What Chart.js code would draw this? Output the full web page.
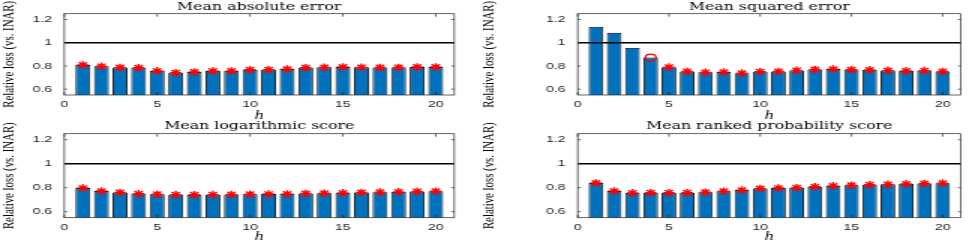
<!DOCTYPE html>
<html>
<head>
<meta charset="utf-8">
<script src="https://cdn.jsdelivr.net/npm/chart.js@4.4.0/dist/chart.umd.min.js"></script>
<style>
html, body { margin: 0; padding: 0; background: #fff; overflow: hidden; }
#fig { position: relative; width: 969px; height: 241px; }
#fig canvas { position: absolute; }
</style>
</head>
<body>
<div id="fig"></div>
<script>
// Forecast horizons and relative losses (model vs. INAR)
const horizons = [1, 2, 3, 4, 5, 6, 7, 8, 9, 10, 11, 12, 13, 14, 15, 16, 17, 18, 19, 20];
const maeLoss = [0.808, 0.797, 0.787, 0.785, 0.758, 0.742, 0.748, 0.757, 0.757, 0.767,
                 0.768, 0.773, 0.785, 0.788, 0.791, 0.788, 0.787, 0.787, 0.791, 0.791];
const mseLoss = [1.136, 1.086, 0.955, 0.872, 0.790, 0.752, 0.745, 0.747, 0.738, 0.751,
                 0.752, 0.762, 0.770, 0.773, 0.768, 0.766, 0.762, 0.758, 0.760, 0.752];
const logsLoss = [0.797, 0.772, 0.760, 0.750, 0.745, 0.742, 0.741, 0.742, 0.743, 0.745,
                  0.747, 0.748, 0.752, 0.754, 0.757, 0.760, 0.763, 0.765, 0.768, 0.771];
const rpsLoss = [0.839, 0.772, 0.757, 0.758, 0.758, 0.758, 0.762, 0.770, 0.780, 0.793,
                 0.797, 0.800, 0.808, 0.815, 0.820, 0.825, 0.828, 0.832, 0.835, 0.838];

// significance markers (horizons)
const maeStars = horizons;
const mseStars = [5, 6, 7, 8, 9, 10, 11, 12, 13, 14, 15, 16, 17, 18, 19, 20];
const mseCircles = [4];
const logsStars = horizons;
const rpsStars = horizons;

const xTicks = [0, 5, 10, 15, 20];
const yTicks = [0.6, 0.8, 1, 1.2];
const refLevel = 1;

// picture is stretched sideways, draw narrow and widen with css
const SX = 1.5;
const fig = document.getElementById('fig');

const panels = [
    { title: 'Mean absolute error', values: maeLoss, stars: maeStars, circles: [],
      left: 0, top: 0, w: 480, h: 120, area: { l: 64.3, r: 454.3, b: 95 }, pad: [0, 1.2] },
    { title: 'Mean squared error', values: mseLoss, stars: mseStars, circles: mseCircles,
      left: 480, top: 0, w: 489, h: 120, area: { l: 97.7, r: 487.3, b: 95 }, pad: [0, 1.2] },
    { title: 'Mean logarithmic score', values: logsLoss, stars: logsStars, circles: [],
      left: 0, top: 120, w: 480, h: 121, area: { l: 64.3, r: 454.3, b: 97.7 }, pad: [1, 1.8] },
    { title: 'Mean ranked probability score', values: rpsLoss, stars: rpsStars, circles: [],
      left: 480, top: 120, w: 489, h: 121, area: { l: 97.7, r: 487.3, b: 97.7 }, pad: [1, 1.8] }
];

const axisColor = '#262626';
const tickFont = { family: 'Liberation Sans', size: 9.5 };

// box round the axes with inward tick marks
const frame = {
    id: 'frame',
    afterDraw(chart) {
        const { ctx, chartArea: a, scales } = chart;
        ctx.save();
        ctx.strokeStyle = axisColor;
        ctx.lineWidth = 0.7;
        ctx.strokeRect(a.left, a.top, a.right - a.left, a.bottom - a.top);
        ctx.beginPath();
        xTicks.forEach(v => {
            const px = scales.x.getPixelForValue(v);
            ctx.moveTo(px, a.bottom); ctx.lineTo(px, a.bottom - 3);
            ctx.moveTo(px, a.top); ctx.lineTo(px, a.top + 3);
        });
        yTicks.forEach(v => {
            const py = scales.y.getPixelForValue(v);
            ctx.moveTo(a.left, py); ctx.lineTo(a.left + 2, py);
            ctx.moveTo(a.right, py); ctx.lineTo(a.right - 2, py);
        });
        ctx.stroke();
        ctx.restore();
    }
};

function makeChart(p) {
    const cv = document.createElement('canvas');
    const iw = Math.round(p.w / SX);
    cv.width = iw;
    cv.height = p.h;
    cv.style.left = p.left + 'px';
    cv.style.top = p.top + 'px';
    cv.style.width = p.w + 'px';
    cv.style.height = p.h + 'px';
    fig.appendChild(cv);
    const plotL = p.area.l / SX;
    const plotR = p.area.r / SX;

    new Chart(cv.getContext('2d'), {
        type: 'bar',
        data: {
            datasets: [
                {
                    type: 'bar',
                    data: horizons.map((h, i) => ({ x: h, y: p.values[i] })),
                    backgroundColor: '#0072BD',
                    borderColor: '#000000',
                    borderWidth: 0.9,
                    barPercentage: 0.8,
                    categoryPercentage: 1,
                    order: 3
                },
                {
                    type: 'line',
                    data: [{ x: 0, y: refLevel }, { x: 21, y: refLevel }],
                    borderColor: '#000000',
                    borderWidth: 1.6,
                    pointRadius: 0,
                    order: 2
                },
                {
                    type: 'line',
                    data: p.stars.map(h => ({ x: h, y: p.values[h - 1] })),
                    showLine: false,
                    pointStyle: 'star',
                    pointRadius: 3.8,
                    borderColor: '#ff0000',
                    borderWidth: 1.4,
                    order: 1
                },
                {
                    type: 'line',
                    data: p.circles.map(h => ({ x: h, y: p.values[h - 1] })),
                    showLine: false,
                    pointStyle: 'circle',
                    pointRadius: 3.5,
                    borderColor: '#ff0000',
                    backgroundColor: 'rgba(0,0,0,0)',
                    borderWidth: 1.2,
                    order: 1
                }
            ]
        },
        options: {
            responsive: false,
            animation: false,
            events: [],
            layout: { padding: { left: 0, right: iw - plotR, top: 0, bottom: 0 } },
            plugins: {
                legend: { display: false },
                tooltip: { enabled: false },
                title: {
                    display: true,
                    text: p.title,
                    fullSize: false,
                    color: '#000',
                    font: { family: 'DejaVu Serif', size: 10.5, weight: 'normal', lineHeight: 1 },
                    padding: { top: p.pad[0], bottom: p.pad[1] }
                }
            },
            scales: {
                x: {
                    type: 'linear',
                    min: 0,
                    max: 21,
                    offset: false,
                    grid: { display: false, drawTicks: false },
                    border: { display: false },
                    afterBuildTicks: s => { s.ticks = xTicks.map(v => ({ value: v })); },
                    afterFit: s => { s.height = p.h - p.area.b; },
                    ticks: { font: tickFont, color: axisColor, padding: 4, maxRotation: 0, autoSkip: false },
                    title: {
                        display: true, text: 'h', color: '#000', padding: { top: 0, bottom: -2 },
                        font: { family: 'Liberation Serif', style: 'italic', size: 12, lineHeight: 1 }
                    }
                },
                y: {
                    min: 0.55,
                    max: 1.25,
                    grid: { display: false, drawTicks: false },
                    border: { display: false },
                    afterBuildTicks: s => { s.ticks = yTicks.map(v => ({ value: v })); },
                    afterFit: s => { s.width = plotL; },
                    ticks: {
                        font: tickFont, color: axisColor, padding: 8,
                        callback: v => String(Math.round(v * 10) / 10)
                    },
                    title: {
                        display: true, text: 'Relative loss (vs. INAR)', color: '#000', padding: 1,
                        font: { family: 'Liberation Serif', size: 10.8, lineHeight: 1 }
                    }
                }
            }
        },
        plugins: [frame]
    });
}

panels.forEach(makeChart);
</script>
</body>
</html>
